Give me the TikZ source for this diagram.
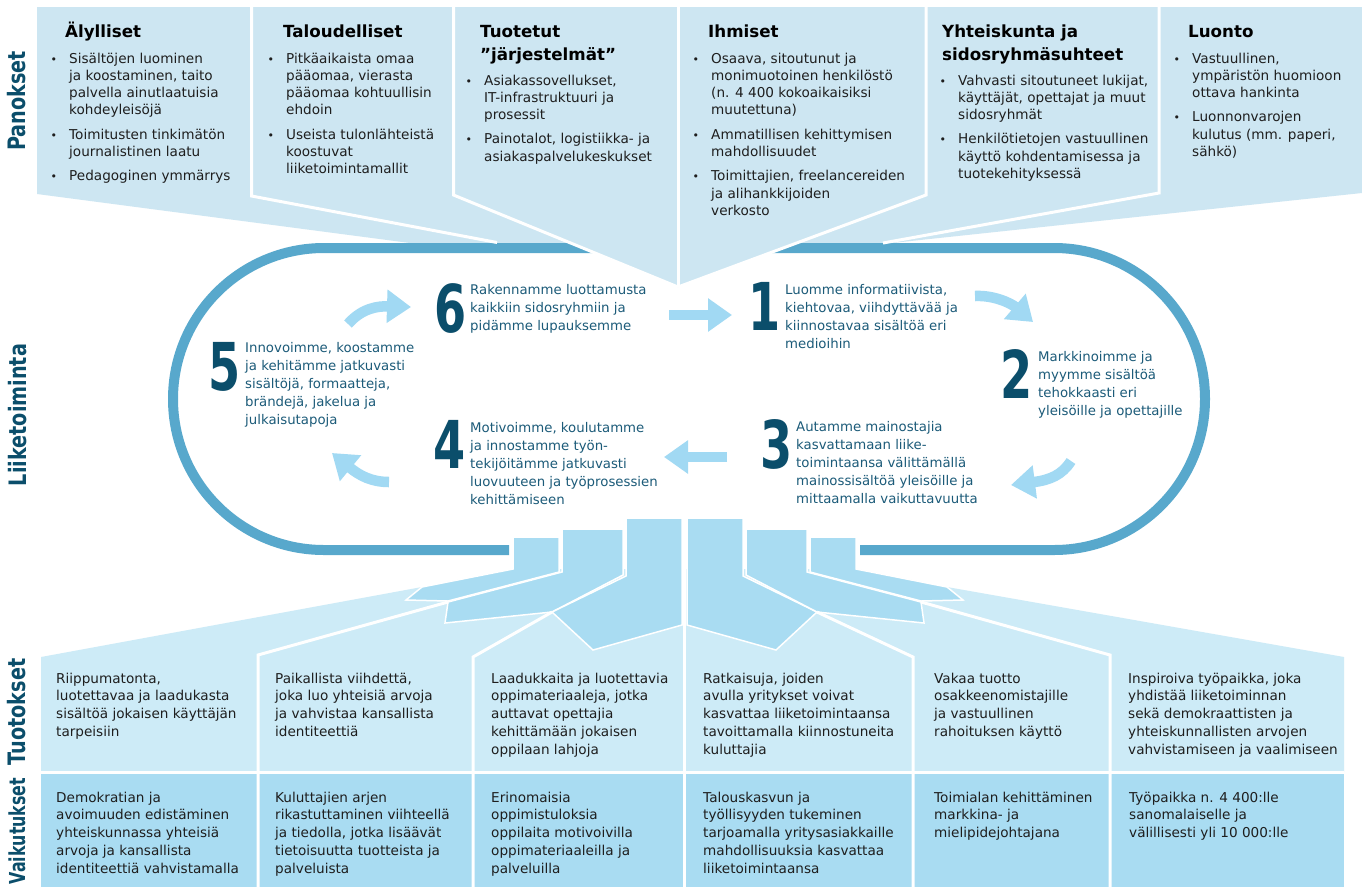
\documentclass[tikz,border=0pt]{standalone}
\usepackage{fontspec}
\setmainfont{DejaVu Sans}
\usepackage{graphicx}
\usetikzlibrary{arrows.meta}
\definecolor{toplight}{HTML}{CDE6F2}
\definecolor{botlight}{HTML}{CDEBF7}
\definecolor{midblue}{HTML}{A9DCF2}
\definecolor{ringblue}{HTML}{58A8CC}
\definecolor{arrowblue}{HTML}{A1D9F3}
\definecolor{darkteal}{HTML}{0B4E6B}
\definecolor{steptext}{HTML}{1C5B79}
\definecolor{bodytext}{HTML}{1E1E1E}
\newcommand{\ml}[1]{\begin{tabular}[t]{@{}l@{}}#1\end{tabular}}
\newcommand{\bl}{\makebox[19pt][l]{\hspace{0.5pt}{\fontsize{11}{11}\selectfont\textbullet}}}
\newcommand{\blist}[1]{\begin{tabular}[t]{@{}l@{}l@{}}#1\end{tabular}}
\tikzset{
  head/.style={anchor=base west, inner sep=0pt, font=\fontsize{16.7}{23}\selectfont\bfseries, text=black},
  tlist/.style={anchor=base west, inner sep=0pt, font=\fontsize{13.6}{17.3}\selectfont, text=bodytext},
  stept/.style={anchor=base west, inner sep=0pt, font=\fontsize{13.3}{18}\selectfont, text=steptext},
  digit/.style={anchor=base east, inner sep=0pt, font=\fontsize{66}{66}\selectfont\bfseries, text=darkteal},
  bott/.style={anchor=base west, inner sep=0pt, font=\fontsize{13.6}{17.8}\selectfont, text=bodytext},
  sidelabel/.style={rotate=90, inner sep=0pt, font=\fontsize{24}{24}\selectfont\bfseries, text=darkteal},
  wline/.style={draw=white, line width=3pt},
  block/.style={fill=midblue, draw=white, line width=1.5pt},
  bigarrow/.style={draw=arrowblue, line width=10.5pt, -{Triangle[length=24pt,width=32pt]}},
}
\begin{document}
\begin{tikzpicture}[x=1pt, y=-1pt]
\fill[white] (0,0) rectangle (1362,887);
\useasboundingbox (0,0) rectangle (1362,887);

% ---------- top funnel ----------
\fill[toplight] (37,7) -- (1362,7) -- (1362,193) -- (845,248) -- (448,248) -- (37,194) -- cycle;
% ring
\draw[draw=ringblue, line width=10pt, rounded corners=151pt]
  (509,550) -| (173,248) -| (1205,550) -- (860,550);
% central chevron over the ring
\fill[toplight] (453.5,7) -- (926,7) -- (926,195) -- (678,287) -- (453.5,195) -- cycle;
\draw[wline] (251.5,7) -- (251.5,196) -- (497,242.5);
\draw[wline] (453.5,7) -- (453.5,195) -- (678,287);
\draw[wline] (678,7) -- (678,287);
\draw[wline] (926,7) -- (926,195) -- (678,287);
\draw[wline] (1159,7) -- (1159,193) -- (883,243);

% ---------- bottom funnel ----------
\fill[botlight] (41,657) -- (422,587) -- (513,569) -- (856,569) -- (947,587) -- (1344,657) -- (1344,772) -- (41,772) -- cycle;
\fill[midblue] (41,772) rectangle (1344,887);
\filldraw[block] (513,537) -- (559,537) -- (559,572) -- (448,601) -- (406,600) -- (422,587) -- (513,569) -- cycle;
\filldraw[block] (562,529) -- (623,529) -- (623,575) -- (552,612) -- (445,623) -- (448,602) -- (562,572) -- cycle;
\filldraw[block] (626,518) -- (682,518) -- (682,625) -- (593,650) -- (552,612) -- (626,576) -- cycle;
\filldraw[block] (687,518) -- (743,518) -- (743,576) -- (817,612) -- (776,650) -- (687,625) -- cycle;
\filldraw[block] (746,529) -- (807,529) -- (807,572) -- (921,602) -- (924,623) -- (817,612) -- (746,575) -- cycle;
\filldraw[block] (810,537) -- (856,537) -- (856,569) -- (947,587) -- (963,600) -- (921,601) -- (810,572) -- cycle;
\draw[wline] (448,602) -- (258,655) -- (258,887);
\draw[wline] (552,612) -- (473,657) -- (473,887);
\draw[wline] (684.5,518) -- (684.5,887);
\draw[wline] (817,612) -- (913,657) -- (913,887);
\draw[wline] (921,602) -- (1110,655) -- (1110,887);
\draw[wline] (41,772.5) -- (1344,772.5);

% ---------- side labels ----------
\node[sidelabel] (lab1) at (17,101) {\scalebox{0.8}[1]{Panokset}};
\node[sidelabel] (lab2) at (18,415) {\scalebox{0.8}[1]{Liiketoiminta}};
\node[sidelabel] (lab3) at (17,712) {\scalebox{0.8}[1]{Tuotokset}};
\node[sidelabel, font=\fontsize{22}{22}\selectfont\bfseries] (lab4) at (17,831) {\scalebox{0.72}[1]{Vaikutukset}};

% ---------- top panels ----------
\node[head] (h1) at (65,37) {Älylliset};
\node[head] (h2) at (283,37) {Taloudelliset};
\node[head] (h3) at (480,37) {\ml{Tuotetut\\”järjestelmät”}};
\node[head] (h4) at (708,37) {Ihmiset};
\node[head] (h5) at (942,37) {\ml{Yhteiskunta ja\\sidosryhmäsuhteet}};
\node[head] (h6) at (1188,37) {Luonto};

\node[tlist] (p1) at (50,63) {\blist{
\bl & Sisältöjen luominen\\
 & ja koostaminen, taito\\
 & palvella ainutlaatuisia\\
 & kohdeyleisöjä\\[7pt]
\bl & Toimitusten tinkimätön\\
 & journalistinen laatu\\[7pt]
\bl & Pedagoginen ymmärrys}};
\node[tlist] (p2) at (267,63) {\blist{
\bl & Pitkäaikaista omaa\\
 & pääomaa, vierasta\\
 & pääomaa kohtuullisin\\
 & ehdoin\\[7pt]
\bl & Useista tulonlähteistä\\
 & koostuvat\\
 & liiketoimintamallit}};
\node[tlist] (p3) at (465,85) {\blist{
\bl & Asiakassovellukset,\\
 & IT-infrastruktuuri ja\\
 & prosessit\\[7pt]
\bl & Painotalot, logistiikka- ja\\
 & asiakaspalvelukeskukset}};
\node[tlist] (p4) at (692,63) {\blist{
\bl & Osaava, sitoutunut ja\\
 & monimuotoinen henkilöstö\\
 & (n. 4 400 kokoaikaisiksi\\
 & muutettuna)\\[7pt]
\bl & Ammatillisen kehittymisen\\
 & mahdollisuudet\\[7pt]
\bl & Toimittajien, freelancereiden\\
 & ja alihankkijoiden\\
 & verkosto}};
\node[tlist] (p5) at (939,85) {\blist{
\bl & Vahvasti sitoutuneet lukijat,\\
 & käyttäjät, opettajat ja muut\\
 & sidosryhmät\\[7pt]
\bl & Henkilötietojen vastuullinen\\
 & käyttö kohdentamisessa ja\\
 & tuotekehityksessä}};
\node[tlist] (p6) at (1173,63) {\blist{
\bl & Vastuullinen,\\
 & ympäristön huomioon\\
 & ottava hankinta\\[7pt]
\bl & Luonnonvarojen\\
 & kulutus (mm. paperi,\\
 & sähkö)}};

% ---------- steps ----------
\node[digit] (d6) at (467,332) {\scalebox{0.7}[1]{6}};
\node[stept] (t6) at (470,294) {\ml{Rakennamme luottamusta\\kaikkiin sidosryhmiin ja\\pidämme lupauksemme}};
\node[digit] (d1) at (781,330) {\scalebox{0.7}[1]{1}};
\node[stept] (t1) at (785,294) {\ml{Luomme informatiivista,\\kiehtovaa, viihdyttävää ja\\kiinnostavaa sisältöä eri\\medioihin}};
\node[digit] (d2) at (1033,398) {\scalebox{0.7}[1]{2}};
\node[stept] (t2) at (1038,361) {\ml{Markkinoimme ja\\myymme sisältöä\\tehokkaasti eri\\yleisöille ja opettajille}};
\node[digit] (d3) at (793,468) {\scalebox{0.7}[1]{3}};
\node[stept] (t3) at (796,431) {\ml{Autamme mainostajia\\kasvattamaan liike-\\toimintaansa välittämällä\\mainossisältöä yleisöille ja\\mittaamalla vaikuttavuutta}};
\node[digit] (d4) at (466,468) {\scalebox{0.7}[1]{4}};
\node[stept] (t4) at (470,432) {\ml{Motivoimme, koulutamme\\ja innostamme työn-\\tekijöitämme jatkuvasti\\luovuuteen ja työprosessien\\kehittämiseen}};
\node[digit] (d5) at (241,390) {\scalebox{0.7}[1]{5}};
\node[stept] (t5) at (245,352) {\ml{Innovoimme, koostamme\\ja kehitämme jatkuvasti\\sisältöjä, formaatteja,\\brändejä, jakelua ja\\julkaisutapoja}};

% ---------- cycle arrows ----------
\coordinate (a56s) at (348,324);
\coordinate (a56e) at (411,307);
\coordinate (a61s) at (669,315);
\coordinate (a61e) at (732,315);
\coordinate (a12s) at (975,296);
\coordinate (a12e) at (1033,322);
\coordinate (a23s) at (1071,461);
\coordinate (a23e) at (1011,485);
\coordinate (a34s) at (727,457);
\coordinate (a34e) at (664,457);
\coordinate (a45s) at (389,482);
\coordinate (a45e) at (332,453);
\draw[bigarrow] (a56s) .. controls (362,308) and (378,306) .. (a56e);
\draw[bigarrow] (a61s) -- (a61e);
\draw[bigarrow] (a12s) .. controls (995,295) and (1012,304) .. (a12e);
\draw[bigarrow] (a23s) .. controls (1062,475) and (1050,480) .. (a23e);
\draw[bigarrow] (a34s) -- (a34e);
\draw[bigarrow] (a45s) .. controls (372,482) and (360,476) .. (a45e);

% ---------- bottom rows ----------
\node[bott] (o1) at (56,683) {\ml{Riippumatonta,\\luotettavaa ja laadukasta\\sisältöä jokaisen käyttäjän\\tarpeisiin}};
\node[bott] (o2) at (275,683) {\ml{Paikallista viihdettä,\\joka luo yhteisiä arvoja\\ja vahvistaa kansallista\\identiteettiä}};
\node[bott] (o3) at (491,683) {\ml{Laadukkaita ja luotettavia\\oppimateriaaleja, jotka\\auttavat opettajia\\kehittämään jokaisen\\oppilaan lahjoja}};
\node[bott] (o4) at (703,683) {\ml{Ratkaisuja, joiden\\avulla yritykset voivat\\kasvattaa liiketoimintaansa\\tavoittamalla kiinnostuneita\\kuluttajia}};
\node[bott] (o5) at (934,683) {\ml{Vakaa tuotto\\osakkeenomistajille\\ja vastuullinen\\rahoituksen käyttö}};
\node[bott] (o6) at (1128,683) {\ml{Inspiroiva työpaikka, joka\\yhdistää liiketoiminnan\\sekä demokraattisten ja\\yhteiskunnallisten arvojen\\vahvistamiseen ja vaalimiseen}};

\node[bott] (v1) at (56,802) {\ml{Demokratian ja\\avoimuuden edistäminen\\yhteiskunnassa yhteisiä\\arvoja ja kansallista\\identiteettiä vahvistamalla}};
\node[bott] (v2) at (275,802) {\ml{Kuluttajien arjen\\rikastuttaminen viihteellä\\ja tiedolla, jotka lisäävät\\tietoisuutta tuotteista ja\\palveluista}};
\node[bott] (v3) at (491,802) {\ml{Erinomaisia\\oppimistuloksia\\oppilaita motivoivilla\\oppimateriaaleilla ja\\palveluilla}};
\node[bott] (v4) at (703,802) {\ml{Talouskasvun ja\\työllisyyden tukeminen\\tarjoamalla yritysasiakkaille\\mahdollisuuksia kasvattaa\\liiketoimintaansa}};
\node[bott] (v5) at (934,802) {\ml{Toimialan kehittäminen\\markkina- ja\\mielipidejohtajana}};
\node[bott] (v6) at (1129,802) {\ml{Työpaikka n. 4 400:lle\\sanomalaiselle ja\\välillisesti yli 10 000:lle}};
\end{tikzpicture}
\end{document}
